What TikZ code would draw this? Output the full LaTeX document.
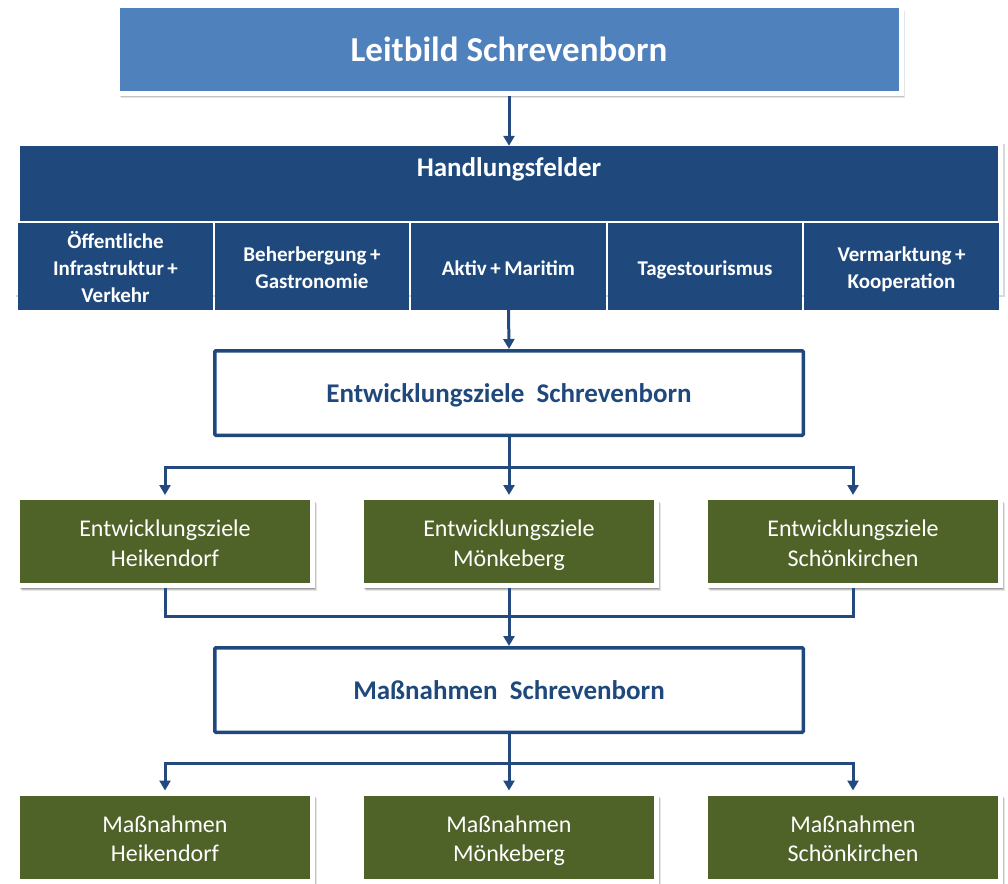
\documentclass[tikz,border=0pt]{standalone}
\usepackage{fontspec}
\setmainfont{Carlito}
\usetikzlibrary{arrows.meta,shadows}
\definecolor{topblue}{HTML}{4F81BD}
\definecolor{darkblue}{HTML}{1F497D}
\definecolor{linecol}{HTML}{24497E}
\definecolor{olive}{HTML}{4F6228}
\newcommand\gtop{\rule{0pt}{24.6pt}}
\newcommand\gbot{\rule[-4.85pt]{0pt}{0pt}}
\newcommand\ctop{\rule{0pt}{22.4pt}}
\newcommand\cbot{\rule[-4.6pt]{0pt}{0pt}}
\tikzset{
  softshadow/.style={
    general shadow={shadow xshift=4pt, shadow yshift=-5pt, opacity=0.10, fill=black},
    general shadow={shadow xshift=3pt, shadow yshift=-4pt, opacity=0.15, fill=black},
    general shadow={shadow xshift=2pt, shadow yshift=-3pt, opacity=0.20, fill=black}},
  topbox/.style={fill=topblue, draw=white, line width=5pt, minimum width=784pt, minimum height=87pt, inner sep=0pt,
    text=white, font=\fontsize{35}{40}\selectfont\bfseries, softshadow},
  hfframe/.style={fill=white, draw=none, minimum width=989pt, minimum height=153pt, inner sep=0pt,
    general shadow={shadow xshift=2pt, shadow yshift=-2pt, opacity=0.15, fill=black}},
  hfhead/.style={fill=darkblue, draw=none, minimum width=978pt, minimum height=75pt, inner sep=0pt},
  hftext/.style={text=white, font=\fontsize{27}{31}\selectfont\bfseries, inner sep=0pt},
  cell/.style={fill=darkblue, draw=none, minimum width=194.5pt, minimum height=87pt, inner sep=0pt,
    text=white, align=center, font=\fontsize{21}{27}\selectfont\bfseries},
  whitebox/.style={fill=white, draw=darkblue, line width=3.5pt, rounded corners=1pt, minimum width=588.5pt, minimum height=84.5pt,
    inner sep=0pt, text=darkblue, text height=23pt, text depth=5pt, font=\fontsize{27}{31}\selectfont\bfseries},
  greenbox/.style={fill=olive, draw=white, line width=5pt, minimum width=295pt, minimum height=88pt, inner sep=0pt,
    text=white, align=center, font=\fontsize{24}{29.5}\selectfont, softshadow},
  conn/.style={draw=linecol, line width=3pt},
  arr/.style={conn, -{Triangle[width=11pt,length=10pt]}},
}
\begin{document}
\begin{tikzpicture}[x=1pt,y=1pt]
\useasboundingbox (0,0) rectangle (1008,-883);
% top
\node[topbox] (top) at (509,-49.5) {Leitbild Schrevenborn};
% Handlungsfelder
\node[hfframe] (hfr) at (508.5,-218.5) {};
\node[hfhead] (hf) at (509,-183.5) {};
\node[hftext] (hft) at ([yshift=-24pt]hf.north) {Handlungsfelder};
\node[cell] (c1) at (115.5,-266.5) {\ctop Öffentliche\\Infrastruktur\,+\\Verkehr\cbot};
\node[cell] (c2) at (312,-266.5) {\ctop Beherbergung\,+\\Gastronomie\cbot};
\node[cell] (c3) at (508.5,-266.5) {\ctop Aktiv\,+\,Maritim\cbot};
\node[cell] (c4) at (705,-266.5) {\ctop Tagestourismus\cbot};
\node[cell] (c5) at (901.5,-266.5) {\ctop Vermarktung\,+\\Kooperation\cbot};
% Entwicklungsziele
\node[whitebox] (ez) at (509,-393) {Entwicklungsziele\ \ Schrevenborn};
\node[greenbox] (g1) at (165,-541.5) {\gtop Entwicklungsziele\\Heikendorf\gbot};
\node[greenbox] (g2) at (509,-541.5) {\gtop Entwicklungsziele\\Mönkeberg\gbot};
\node[greenbox] (g3) at (853,-541.5) {\gtop Entwicklungsziele\\Schönkirchen\gbot};
% Massnahmen
\node[whitebox] (ms) at (509,-690) {Maßnahmen\ \ Schrevenborn};
\node[greenbox] (h1) at (165,-837) {\gtop Maßnahmen\\Heikendorf\gbot};
\node[greenbox] (h2) at (509,-837) {\gtop Maßnahmen\\Mönkeberg\gbot};
\node[greenbox] (h3) at (853,-837) {\gtop Maßnahmen\\Schönkirchen\gbot};
% connectors
\coordinate (s1) at (509,-467);
\coordinate (m1) at (509,-616);
\coordinate (s2) at (509,-763);
\draw[arr] (top.south) -- (hf.north);
\draw[arr] (c3.south) -- (ez.north);
\draw[arr] (ez.south) -- (g2.north);
\draw[arr] (s1) -| (g1.north);
\draw[arr] (s1) -| (g3.north);
\draw[conn] (g1.south) |- (m1) -| (g3.south);
\draw[arr] (g2.south) -- (ms.north);
\draw[arr] (ms.south) -- (h2.north);
\draw[arr] (s2) -| (h1.north);
\draw[arr] (s2) -| (h3.north);
\end{tikzpicture}
\end{document}
